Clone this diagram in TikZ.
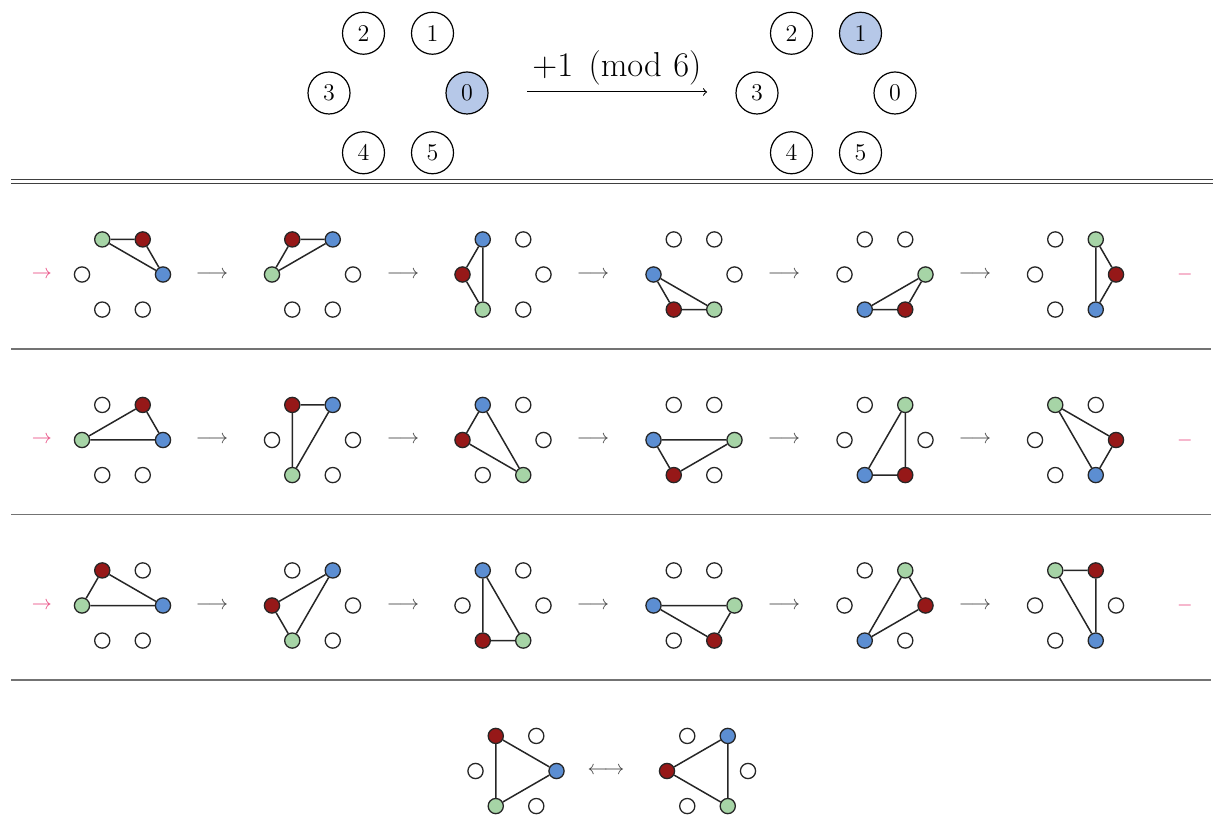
\documentclass[tikz,border=0pt]{standalone}
\usepackage{amsmath}
\begin{document}
\begin{tikzpicture}[x=0.5pt,y=-0.5pt,
  dot/.style={circle,draw=black!85,line width=0.65pt,minimum size=7.6pt,inner sep=0pt},
  big/.style={circle,draw=black,line width=0.6pt,minimum size=21pt,inner sep=0pt,font=\large},
  edge/.style={draw=black!85,line width=0.75pt},
  tarrow/.style={text=black!75,inner sep=0pt},
  pinkmark/.style={text=cpink,inner sep=0pt},
  sep/.style={draw=black!55,line width=0.7pt},
  dsep/.style={draw=black!75,line width=0.6pt}]
\definecolor{cgreen}{RGB}{166,212,166}
\definecolor{cred}{RGB}{150,24,24}
\definecolor{cblue}{RGB}{92,142,210}
\definecolor{clight}{RGB}{182,200,232}
\definecolor{cpink}{RGB}{232,76,130}
\useasboundingbox (0,0) rectangle (1219,817);
\newcommand\hexg[6]{%
  \foreach \k in {0,...,5}{%
    \def\fc{white}%
    \ifnum\k=#4 \def\fc{cgreen}\fi
    \ifnum\k=#5 \def\fc{cred}\fi
    \ifnum\k=#6 \def\fc{cblue}\fi
    \node[dot,fill=\fc] (#1-\k) at ({#2+40.5*cos(60*\k)},{#3-40.5*sin(60*\k)}) {};
  }%
  \draw[edge] (#1-#4) -- (#1-#5) -- (#1-#6) -- (#1-#4);
}
% top
\foreach \k in {0,...,5}{%
  \def\fc{white}\ifnum\k=0 \def\fc{clight}\fi
  \node[big,fill=\fc] (L-\k) at ({398+69*cos(60*\k)},{93-69*sin(60*\k)}) {\k};
  \def\fc{white}\ifnum\k=1 \def\fc{clight}\fi
  \node[big,fill=\fc] (R-\k) at ({826+69*cos(60*\k)},{93-69*sin(60*\k)}) {\k};
}
\coordinate (ta) at (527,92);
\coordinate (tb) at (707,92);
\draw[line width=0.5pt,-to] (ta) -- (tb) node[midway,above=2pt,font=\LARGE,inner sep=1pt] (tl) {$+1 \pmod{6}$};
% separators
\draw[dsep] (11,179.7) -- (1213,179.7);
\draw[dsep] (11,183.3) -- (1213,183.3);
\draw[sep] (11,349) -- (1211,349);
\draw[sep] (11,514.5) -- (1211,514.5);
\draw[sep] (11,680) -- (1211,680);
% rows
\foreach \y/\r in {274.5/a,440/b,605.5/c}{
  \node[pinkmark] (p\r) at (42,\y) {$\to$};
  \node[pinkmark] (m\r) at (1185,\y) {$-$};
  \foreach \x/\i in {212/1,403/2,593/3,784/4,975/5}{
    \node[tarrow] (ar\r\i) at (\x,\y) {$\longrightarrow$};
  }
}
\hexg{a1}{122.5}{274.5}{2}{1}{0}
\hexg{a2}{312.5}{274.5}{3}{2}{1}
\hexg{a3}{503}{274.5}{4}{3}{2}
\hexg{a4}{694}{274.5}{5}{4}{3}
\hexg{a5}{885}{274.5}{0}{5}{4}
\hexg{a6}{1075.5}{274.5}{1}{0}{5}
\hexg{b1}{122.5}{440}{3}{1}{0}
\hexg{b2}{312.5}{440}{4}{2}{1}
\hexg{b3}{503}{440}{5}{3}{2}
\hexg{b4}{694}{440}{0}{4}{3}
\hexg{b5}{885}{440}{1}{5}{4}
\hexg{b6}{1075.5}{440}{2}{0}{5}
\hexg{c1}{122.5}{605.5}{3}{2}{0}
\hexg{c2}{312.5}{605.5}{4}{3}{1}
\hexg{c3}{503}{605.5}{5}{4}{2}
\hexg{c4}{694}{605.5}{0}{5}{3}
\hexg{c5}{885}{605.5}{1}{0}{4}
\hexg{c6}{1075.5}{605.5}{2}{1}{5}
% bottom
\hexg{d1}{516}{771}{4}{2}{0}
\hexg{d2}{707.5}{771}{5}{3}{1}
\node[tarrow] (dar) at (606,771) {$\longleftrightarrow$};
\end{tikzpicture}
\end{document}
